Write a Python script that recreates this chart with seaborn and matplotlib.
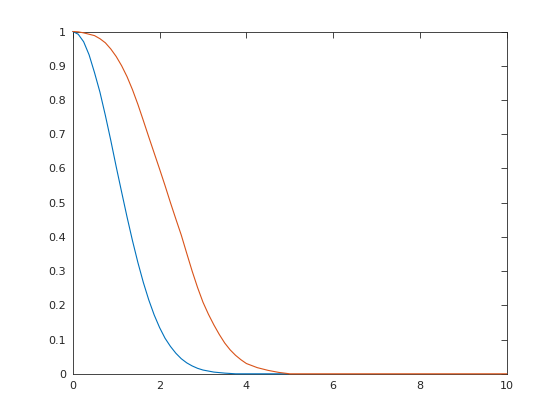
import numpy as np
import pandas as pd
import matplotlib
matplotlib.use('Agg')
import matplotlib.pyplot as plt
import seaborn as sns

sns.set_style('white')
plt.rcParams['font.family'] = ['DejaVu Sans']

# valeurs
x_blue = [0, 0.125, 0.25, 0.375, 0.5, 0.625, 0.75, 0.875, 1.0, 1.125, 1.25,
          1.375, 1.5, 1.625, 1.75, 1.875, 2.0, 2.125, 2.25, 2.375, 2.5, 2.625,
          2.75, 2.875, 3.0, 3.25, 3.5, 3.75, 4.0, 4.5, 4.95]
y_blue = [1.0, 0.992, 0.97, 0.932, 0.88, 0.823, 0.755, 0.682, 0.605, 0.531,
          0.458, 0.389, 0.325, 0.267, 0.216, 0.172, 0.135, 0.104, 0.08, 0.06,
          0.044, 0.032, 0.023, 0.016, 0.011, 0.005, 0.002, 0.0, 0.0, 0.0, 0.0]

x_orange = [0, 0.125, 0.25, 0.375, 0.5, 0.625, 0.75, 0.875, 1.0, 1.125, 1.25,
            1.375, 1.5, 1.625, 1.75, 1.875, 2.0, 2.125, 2.25, 2.375, 2.5,
            2.625, 2.75, 2.875, 3.0, 3.125, 3.25, 3.375, 3.5, 3.625, 3.75,
            3.875, 4.0, 4.25, 4.5, 4.75, 5.0, 6.0, 8.0, 10.0]
y_orange = [1.0, 0.999, 0.996, 0.992, 0.988, 0.979, 0.967, 0.949, 0.927, 0.90,
            0.868, 0.83, 0.787, 0.74, 0.692, 0.645, 0.598, 0.55, 0.50, 0.452,
            0.405, 0.352, 0.30, 0.252, 0.209, 0.174, 0.143, 0.115, 0.09, 0.07,
            0.054, 0.041, 0.030, 0.018, 0.01, 0.004, 0.0, 0.0, 0.0, 0.0]

df_b = pd.DataFrame({'x': x_blue, 'y': y_blue})
df_o = pd.DataFrame({'x': x_orange, 'y': y_orange})

fig = plt.figure(figsize=(5.6, 4.2), dpi=100)
ax = fig.add_axes([0.13, 0.11, 0.775, 0.815])

sns.lineplot(data=df_b, x='x', y='y', ax=ax, color='#0072BD', lw=0.8,
             zorder=3, clip_on=False)
sns.lineplot(data=df_o, x='x', y='y', ax=ax, color='#D95319', lw=0.8,
             zorder=3, clip_on=False)

ax.set_xlim(0, 10)
ax.set_ylim(0, 1)
ax.set_xticks([0, 2, 4, 6, 8, 10])
ax.set_yticks(np.arange(0, 1.01, 0.1))
ax.set_yticklabels(['0', '0.1', '0.2', '0.3', '0.4', '0.5', '0.6', '0.7', '0.8', '0.9', '1'])
ax.set_xlabel('')
ax.set_ylabel('')
ax.tick_params(direction='in', length=4, width=0.6, top=True, right=True,
               labelsize=8, colors='#262626', pad=5)
for s in ax.spines.values():
    s.set_color('#262626')
    s.set_linewidth(0.6)

fig.savefig('out.png', dpi=100)
